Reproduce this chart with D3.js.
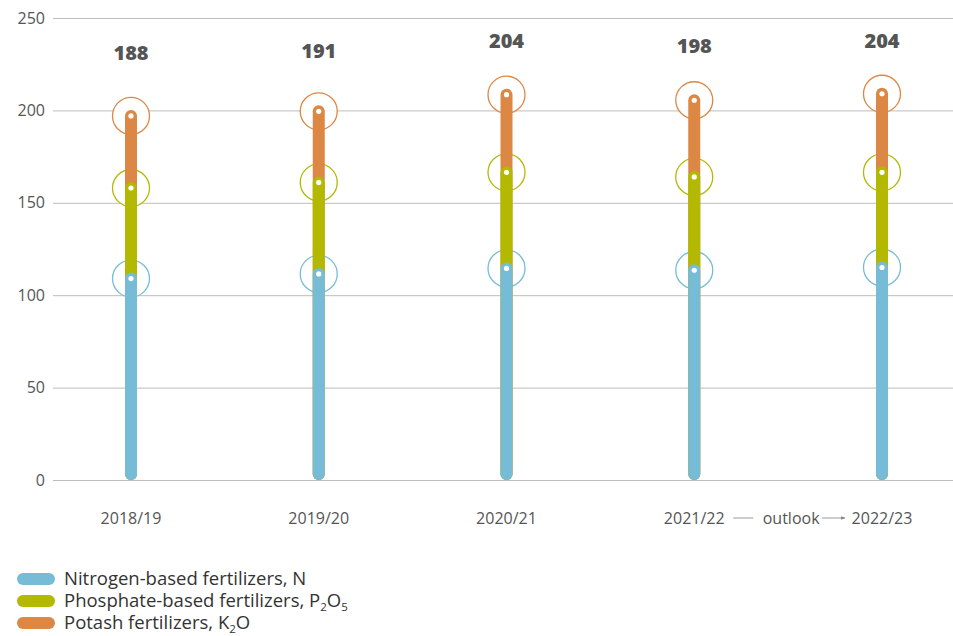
<!DOCTYPE html>
<html>
<head>
<meta charset="utf-8">
<script src="https://cdn.jsdelivr.net/npm/d3@7/dist/d3.min.js"></script>
<style>
  html, body { margin: 0; padding: 0; background: #fff; }
  svg { display: block; font-family: "Open Sans", sans-serif; }
</style>
</head>
<body>
<svg id="chart" width="953" height="636"></svg>
<script>
// ---- data ----
const categories = ["2018/19", "2019/20", "2020/21", "2021/22", "2022/23"];
const nitrogen  = [109, 111.5, 114.5, 113.5, 115];
const phosphate = [49, 49.5, 52, 50.5, 51.5];
const potash    = [39, 38.5, 42, 41.5, 42.5];
const totals    = [188, 191, 204, 198, 204];
const yTicks    = [0, 50, 100, 150, 200, 250];
const seriesNames = ["Nitrogen-based fertilizers, N", "Phosphate-based fertilizers, P2O5", "Potash fertilizers, K2O"];
const outlookLabel = "outlook";

// ---- styles ----
const colors = { N: "#76bcd7", P: "#b3b800", K: "#dc8744" };
const barW = 12, capR = barW / 2, ringR = 18.5;

const svg = d3.select("#chart");
const W = 953;
const y = d3.scaleLinear().domain([0, 250]).range([480, 18]);
const x = d3.scalePoint().domain(categories).range([131, 882]);
const labelY = d3.scaleLinear().domain([0, 250]).range([201, 13.5]);

// gridlines + y labels
const yAxis = d3.axisLeft(y).tickValues(yTicks).tickSize(-(W - 53)).tickPadding(8);
const gy = svg.append("g").attr("transform", "translate(53,0)").call(yAxis);
gy.select(".domain").remove();
gy.selectAll(".tick line").attr("stroke", "#bdbdbd").attr("stroke-width", 1);
gy.selectAll(".tick text").attr("fill", "#555").attr("font-size", 16)
  .attr("font-family", "'Open Sans', sans-serif");

// cumulative stacks
const rows = categories.map((c, i) => {
  const n = nitrogen[i], p = n + phosphate[i], k = p + potash[i];
  return { c, n, p, k, total: totals[i] };
});

const gRings = svg.append("g");
const gBars = svg.append("g");
const gDots = svg.append("g");
const keys = [["k", "K"], ["p", "P"], ["n", "N"]];

keys.forEach(([key, col]) => {
  gRings.selectAll(null).data(rows).enter().append("circle")
    .attr("cx", d => x(d.c)).attr("cy", d => y(d[key])).attr("r", ringR)
    .attr("fill", "#fff").attr("fill-opacity", 0.85)
    .attr("stroke", colors[col]).attr("stroke-width", 1.3);
  gBars.selectAll(null).data(rows).enter().append("line")
    .attr("x1", d => x(d.c)).attr("x2", d => x(d.c))
    .attr("y1", y(0) - capR).attr("y2", d => y(d[key]))
    .attr("stroke", colors[col]).attr("stroke-width", barW)
    .attr("stroke-linecap", "round");
  gDots.selectAll(null).data(rows).enter().append("circle")
    .attr("cx", d => x(d.c)).attr("cy", d => y(d[key])).attr("r", 2.6)
    .attr("fill", "#fff");
});

// total labels
svg.append("g").selectAll("text").data(rows).enter().append("text")
  .attr("x", d => x(d.c)).attr("y", d => labelY(d.total))
  .attr("text-anchor", "middle").attr("font-size", 20).attr("font-weight", 800)
  .attr("fill", "#555").text(d => d.total);

// x labels
svg.append("g").selectAll("text").data(categories).enter().append("text")
  .attr("x", d => x(d)).attr("y", 524).attr("text-anchor", "middle")
  .attr("font-size", 16).attr("fill", "#555").text(d => d);

// outlook annotation
const xa = x(categories[3]), xb = x(categories[4]);
const mid = (xa + xb) / 2;
svg.append("defs").append("marker").attr("id", "arr")
  .attr("viewBox", "0 0 10 10").attr("refX", 9).attr("refY", 5)
  .attr("markerWidth", 5).attr("markerHeight", 5).attr("orient", "auto")
  .append("path").attr("d", "M0,1 L10,5 L0,9 Z").attr("fill", "#888");
svg.append("line").attr("x1", xa + 39).attr("x2", xa + 59).attr("y1", 518).attr("y2", 518)
  .attr("stroke", "#999").attr("stroke-width", 1);
svg.append("text").attr("x", mid + 3).attr("y", 524).attr("text-anchor", "middle")
  .attr("font-size", 16).attr("fill", "#555").text(outlookLabel);
svg.append("line").attr("x1", xb - 60).attr("x2", xb - 37).attr("y1", 518).attr("y2", 518)
  .attr("stroke", "#999").attr("stroke-width", 1).attr("marker-end", "url(#arr)");

// legend
const leg = svg.append("g");
const legColors = [colors.N, colors.P, colors.K];
seriesNames.forEach((name, i) => {
  const gy0 = 579 + i * 22;
  leg.append("rect").attr("x", 17).attr("y", gy0 - 6).attr("width", 38).attr("height", 12)
    .attr("rx", 6).attr("fill", legColors[i]);
  const t = leg.append("text").attr("x", 64).attr("y", gy0 + 6)
    .attr("font-size", 18.5).attr("fill", "#333");
  // render subscripts for chemical formulas
  const m = name.match(/^(.*, )(.*)$/);
  t.append("tspan").text(m[1]);
  let shift = 0;
  m[2].split(/(\d)/).forEach(part => {
    if (!part) return;
    if (/\d/.test(part)) {
      t.append("tspan").attr("font-size", 11.5).attr("dy", 4 - shift).text(part);
      shift = 4;
    } else {
      t.append("tspan").attr("dy", -shift).text(part);
      shift = 0;
    }
  });
});
</script>
</body>
</html>
